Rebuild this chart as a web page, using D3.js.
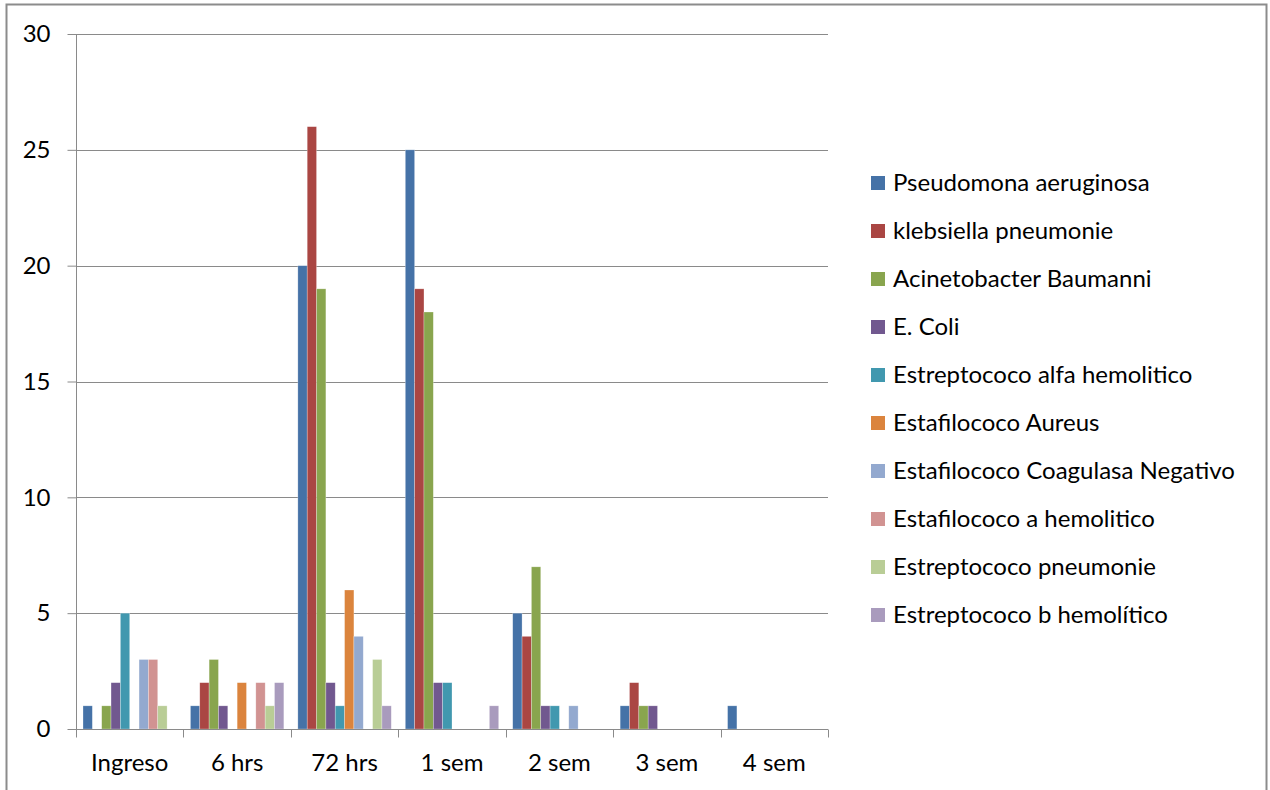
<!DOCTYPE html>
<html>
<head>
<meta charset="utf-8">
<script src="https://cdn.jsdelivr.net/npm/d3@7"></script>
<style>
  html, body { margin: 0; padding: 0; background: #fff; }
  svg text { font-family: Lato, "Open Sans", "DejaVu Sans", sans-serif; fill: #000; }
</style>
</head>
<body>
<svg id="chart" width="1270" height="790"></svg>
<script>
// Muestras por tiempo de estancia
const categories = ["Ingreso", "6 hrs", "72 hrs", "1 sem", "2 sem", "3 sem", "4 sem"];
const seriesNames = [
  "Pseudomona aeruginosa",
  "klebsiella pneumonie",
  "Acinetobacter Baumanni",
  "E. Coli",
  "Estreptococo alfa hemolitico",
  "Estafilococo Aureus",
  "Estafilococo Coagulasa Negativo",
  "Estafilococo a hemolitico",
  "Estreptococo pneumonie",
  "Estreptococo b hemolítico"
];
const pseudomona    = [1, 1, 20, 25, 5, 1, 1];
const klebsiella    = [0, 2, 26, 19, 4, 2, 0];
const acinetobacter = [1, 3, 19, 18, 7, 1, 0];
const eColi         = [2, 1, 2, 2, 1, 1, 0];
const estrepAlfa    = [5, 0, 1, 2, 1, 0, 0];
const estafAureus   = [0, 2, 6, 0, 0, 0, 0];
const estafCoag     = [3, 0, 4, 0, 1, 0, 0];
const estafAHemo    = [3, 2, 0, 0, 0, 0, 0];
const estrepPneu    = [1, 1, 3, 0, 0, 0, 0];
const estrepBHemo   = [0, 2, 1, 1, 0, 0, 0];
const seriesValues = [pseudomona, klebsiella, acinetobacter, eColi, estrepAlfa,
                      estafAureus, estafCoag, estafAHemo, estrepPneu, estrepBHemo];
const yTicks = [0, 5, 10, 15, 20, 25, 30];

const colors = ["#4572A7", "#AA4643", "#89A54E", "#71588F", "#4198AF",
                "#DB843D", "#93A9CF", "#D19392", "#B9CD96", "#A99BBD"];

const svg = d3.select("#chart");
const plot = { left: 76, right: 828, top: 34, bottom: 729 };
const fontSize = 24;

// outer frame
svg.append("rect")
  .attr("x", 6.5).attr("y", 4.5).attr("width", 1260).attr("height", 800)
  .attr("fill", "#fff").attr("stroke", "#8c8c8c").attr("stroke-width", 2);

const x0 = d3.scaleBand().domain(categories)
  .range([plot.left, plot.right]).paddingInner(0).paddingOuter(0);
const gapRatio = 1.5;
const nSeries = seriesNames.length;
const barW = x0.bandwidth() / (nSeries + gapRatio);
const x1 = d3.scaleBand().domain(d3.range(nSeries))
  .range([barW * gapRatio / 2, barW * gapRatio / 2 + barW * nSeries]);

const y = d3.scaleLinear().domain([0, 30]).range([plot.bottom, plot.top]);

// horizontal gridlines
svg.append("g")
  .selectAll("line").data(yTicks.filter(d => d > 0)).join("line")
  .attr("x1", plot.left).attr("x2", plot.right)
  .attr("y1", d => Math.round(y(d)) + 0.5).attr("y2", d => Math.round(y(d)) + 0.5)
  .attr("stroke", "#8a8a8a").attr("stroke-width", 1);

// bars
const groups = svg.append("g").selectAll("g")
  .data(seriesValues).join("g")
  .attr("fill", (d, i) => colors[i]);
groups.selectAll("rect")
  .data((vals, si) => vals.map((v, ci) => ({ v, ci, si })))
  .join("rect")
  .filter(d => d.v > 0)
  .attr("x", d => x0(categories[d.ci]) + x1(d.si))
  .attr("width", x1.bandwidth())
  .attr("y", d => y(d.v))
  .attr("height", d => y(0) - y(d.v))
  .attr("stroke", "rgba(255,255,255,0.45)")
  .attr("stroke-width", 0.6);

// y axis
const yAxis = d3.axisLeft(y).tickValues(yTicks).tickSize(9).tickPadding(17);
const gy = svg.append("g").attr("transform", `translate(${plot.left + 0.5},0)`).call(yAxis);
gy.select(".domain").attr("stroke", "#8a8a8a").attr("d", `M0,${plot.top}V${plot.bottom}`);
gy.selectAll(".tick line").attr("stroke", "#8a8a8a");
gy.selectAll(".tick text").attr("font-size", fontSize)
  .style("font-family", "Lato, 'Open Sans', sans-serif").attr("fill", "#000");

// x axis
const xAxis = d3.axisBottom(x0).tickSize(0).tickPadding(24);
const gx = svg.append("g").attr("transform", `translate(0,${plot.bottom + 0.5})`).call(xAxis);
gx.select(".domain").attr("stroke", "#8a8a8a").attr("d", `M${plot.left},0H${plot.right}`);
gx.selectAll(".tick text").attr("font-size", fontSize)
  .style("font-family", "Lato, 'Open Sans', sans-serif").attr("fill", "#000");
// category boundary ticks
const boundaries = categories.map(c => x0(c)).concat([plot.right]);
gx.append("g").selectAll("line").data(boundaries).join("line")
  .attr("x1", d => Math.round(d) + 0.5).attr("x2", d => Math.round(d) + 0.5)
  .attr("y1", 0).attr("y2", 8)
  .attr("stroke", "#8a8a8a");

// legend
const legend = svg.append("g").attr("transform", "translate(871,183)");
const rowH = 48;
const items = legend.selectAll("g").data(seriesNames).join("g")
  .attr("transform", (d, i) => `translate(0,${i * rowH})`);
items.append("rect")
  .attr("x", 0).attr("y", -7).attr("width", 14).attr("height", 14)
  .attr("fill", (d, i) => colors[i]);
items.append("text")
  .attr("x", 22).attr("y", 0).attr("dy", "0.35em")
  .attr("font-size", fontSize)
  .text(d => d);
</script>
</body>
</html>
